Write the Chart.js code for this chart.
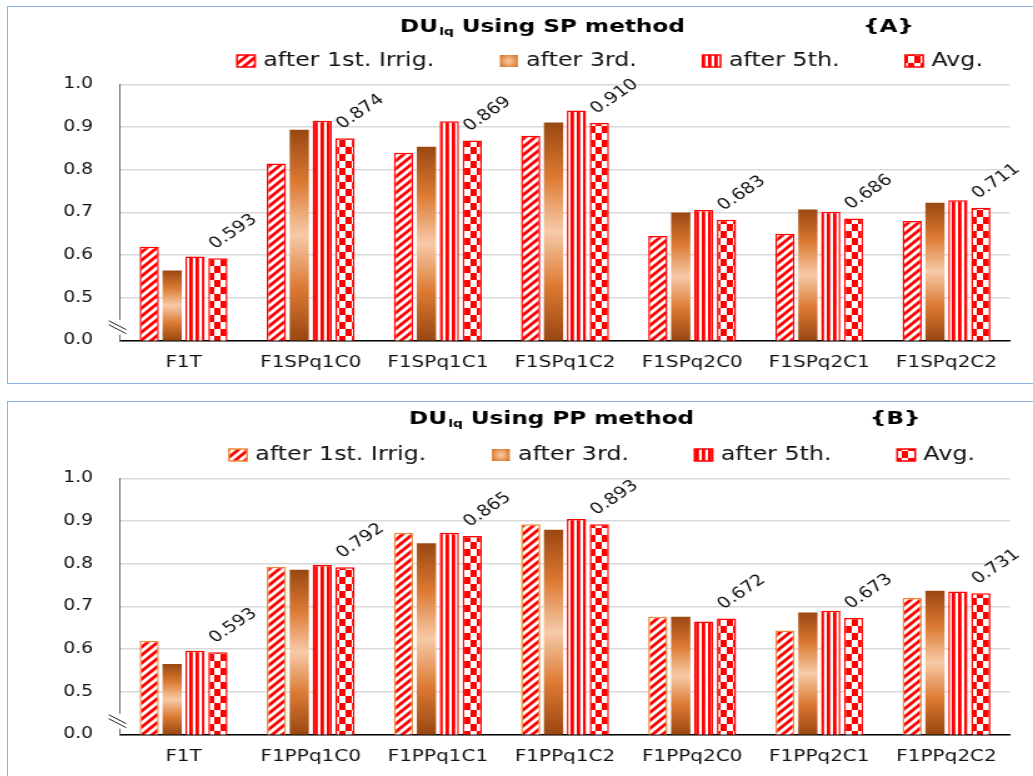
<!DOCTYPE html>
<html>
<head>
<meta charset="utf-8">
<script src="https://cdn.jsdelivr.net/npm/chart.js@4.4.1/dist/chart.umd.min.js"></script>
<style>
  body { margin: 0; background: #fff; width: 1033px; height: 776px; overflow: hidden; position: relative; }
  .panel { position: absolute; left: 7px; width: 1040px; border: 1px solid #8db3e2; overflow: hidden; background: #fff; }
  #panelA { top: 6px; height: 376px; }
  #panelB { top: 401px; height: 380px; }
  /* the source picture is stretched sideways, so the canvas is too */
  .stretch { width: 824px; height: 376px; transform: scaleX(1.25); transform-origin: 0 0; }
</style>
</head>
<body>
<div class="panel" id="panelA"><div class="stretch"><canvas id="chartA"></canvas></div></div>
<div class="panel" id="panelB"><div class="stretch"><canvas id="chartB"></canvas></div></div>
<script>
const seriesNames = ["after 1st. Irrig.", "after 3rd.", "after 5th.", "Avg."];

const spLabels = ["F1T", "F1SPq1C0", "F1SPq1C1", "F1SPq1C2", "F1SPq2C0", "F1SPq2C1", "F1SPq2C2"];
const spFirst = [0.620, 0.815, 0.840, 0.880, 0.645, 0.650, 0.680];
const spThird = [0.564, 0.894, 0.854, 0.911, 0.700, 0.707, 0.723];
const spFifth = [0.597, 0.915, 0.914, 0.939, 0.706, 0.702, 0.729];
const spAvg = [0.593, 0.874, 0.869, 0.910, 0.683, 0.686, 0.711];

const ppLabels = ["F1T", "F1PPq1C0", "F1PPq1C1", "F1PPq1C2", "F1PPq2C0", "F1PPq2C1", "F1PPq2C2"];
const ppFirst = [0.620, 0.793, 0.873, 0.893, 0.676, 0.644, 0.720];
const ppThird = [0.565, 0.786, 0.848, 0.880, 0.676, 0.686, 0.737];
const ppFifth = [0.596, 0.797, 0.873, 0.905, 0.665, 0.690, 0.735];
const ppAvg = [0.593, 0.792, 0.865, 0.893, 0.672, 0.673, 0.731];

// axis is broken: the bottom (0.4) is labelled 0.0
const yMin = 0.4;
const yMax = 1.0;

const RED = "#ff0000";
const FONT = '"DejaVu Sans", Verdana, sans-serif';
Chart.defaults.font.family = FONT;
Chart.defaults.color = "#111";

function makePattern(w, h, draw) {
    const c = document.createElement("canvas");
    c.width = w;
    c.height = h;
    const g = c.getContext("2d");
    g.fillStyle = "#fff";
    g.fillRect(0, 0, w, h);
    g.fillStyle = RED;
    g.strokeStyle = RED;
    draw(g, w, h);
    return g.createPattern(c, "repeat");
}

const diagPattern = makePattern(8, 8, g => {
    g.lineWidth = 2.8;
    g.beginPath();
    g.moveTo(-2, 2); g.lineTo(2, -2);
    g.moveTo(0, 8); g.lineTo(8, 0);
    g.moveTo(6, 10); g.lineTo(10, 6);
    g.stroke();
});
const vertPattern = makePattern(5, 2, g => g.fillRect(0, 0, 2.8, 2));
const checkPattern = makePattern(10, 14, g => {
    g.fillRect(0, 0, 5, 7);
    g.fillRect(5, 7, 5, 7);
});

function brownGradient(c) {
    const chart = c.chart;
    if (!chart.chartArea || c.type !== "data") return "#e0803a";
    const ys = chart.scales.y;
    const top = ys.getPixelForValue(c.raw);
    const bottom = ys.getPixelForValue(yMin);
    const g = chart.ctx.createLinearGradient(0, top, 0, bottom);
    g.addColorStop(0, "#9a4712");
    g.addColorStop(0.25, "#dc7a33");
    g.addColorStop(0.5, "#f7caa8");
    g.addColorStop(0.75, "#dc7a33");
    g.addColorStop(1, "#9a4712");
    return g;
}

function buildChart(canvasId, cfg) {
    const avg = cfg.avg;

    const headerPlugin = {
        id: "header",
        afterDraw(chart) {
            const ctx = chart.ctx;
            ctx.save();
            ctx.fillStyle = "#000";
            ctx.textAlign = "left";
            ctx.textBaseline = "alphabetic";
            let x = cfg.titleX;
            const y = cfg.titleY;
            ctx.font = "bold 18.5px " + FONT;
            ctx.fillText("DU", x, y);
            x += ctx.measureText("DU").width + 1;
            ctx.font = "bold 11px " + FONT;
            ctx.fillText("lq", x, y + 3);
            x += ctx.measureText("lq").width;
            ctx.font = "bold 18.5px " + FONT;
            ctx.fillText(" Using " + cfg.method + " method", x, y);
            ctx.fillText(cfg.tag, cfg.tagX, y);

            // legend
            const fills = [diagPattern, null, vertPattern, checkPattern];
            let lx = cfg.legendX;
            const ly = cfg.legendY;
            ctx.font = "19px " + FONT;
            ctx.textBaseline = "middle";
            seriesNames.forEach((name, i) => {
                const bw = 14.4, bh = 12;
                if (i === 1) {
                    const rg = ctx.createRadialGradient(lx + bw / 2, ly, 1, lx + bw / 2, ly, 9);
                    rg.addColorStop(0, "#f8c49a");
                    rg.addColorStop(1, "#d66d1e");
                    ctx.fillStyle = rg;
                    ctx.fillRect(lx, ly - bh / 2, bw, bh);
                } else {
                    ctx.fillStyle = fills[i];
                    ctx.fillRect(lx, ly - bh / 2, bw, bh);
                    ctx.lineWidth = 1.5;
                    ctx.strokeStyle = i === 0 ? cfg.firstBorder : RED;
                    ctx.strokeRect(lx, ly - bh / 2, bw, bh);
                }
                ctx.fillStyle = "#111";
                ctx.fillText(name, lx + 21, ly);
                lx += 21 + ctx.measureText(name).width + 52.5;
            });

            // break marks on the y axis
            const ys = chart.scales.y;
            const left = chart.chartArea.left;
            const yb = ys.getPixelForValue(0.43);
            ctx.fillStyle = "#fff";
            ctx.fillRect(left - 2, yb - 8, 4, 15);
            ctx.strokeStyle = "#222";
            ctx.lineWidth = 1;
            ctx.beginPath();
            ctx.moveTo(left - 9, yb - 7); ctx.lineTo(left + 5, yb + 2);
            ctx.moveTo(left - 9, yb - 3); ctx.lineTo(left + 5, yb + 6);
            ctx.stroke();
            ctx.restore();
        },
        afterDatasetsDraw(chart) {
            const ctx = chart.ctx;
            const meta = chart.getDatasetMeta(3);
            ctx.save();
            ctx.fillStyle = "#111";
            ctx.font = "15.5px " + FONT;
            ctx.textAlign = "left";
            ctx.textBaseline = "alphabetic";
            meta.data.forEach((el, i) => {
                ctx.save();
                ctx.translate(el.x - el.width / 2 + 5.5, el.y - 9);
                ctx.rotate(-40 * Math.PI / 180);
                ctx.fillText(avg[i].toFixed(3), 0, 0);
                ctx.restore();
            });
            ctx.restore();
        }
    };

    return new Chart(document.getElementById(canvasId), {
        type: "bar",
        data: {
            labels: cfg.labels,
            datasets: [
                { label: seriesNames[0], data: cfg.first, backgroundColor: diagPattern,
                  borderColor: cfg.firstBorder, borderWidth: 1.5 },
                { label: seriesNames[1], data: cfg.third, backgroundColor: brownGradient,
                  borderWidth: 0 },
                { label: seriesNames[2], data: cfg.fifth, backgroundColor: vertPattern,
                  borderColor: RED, borderWidth: 1.5 },
                { label: seriesNames[3], data: avg, backgroundColor: checkPattern,
                  borderColor: RED, borderWidth: 1.5 }
            ]
        },
        options: {
            responsive: true,
            maintainAspectRatio: false,
            animation: false,
            events: [],
            categoryPercentage: 0.72,
            barPercentage: 0.84,
            layout: { padding: { top: cfg.plotTop, right: 22.4, left: 0, bottom: 0 } },
            plugins: {
                legend: { display: false },
                title: { display: false },
                tooltip: { enabled: false }
            },
            scales: {
                x: {
                    grid: { display: false, drawTicks: false },
                    border: { color: "#000", width: 1.5 },
                    ticks: { padding: 13, font: { size: 16 }, color: "#111" },
                    afterFit(s) { s.height = 376 - cfg.plotBottom; }
                },
                y: {
                    min: yMin,
                    max: yMax,
                    grid: { color: "#d9d9d9", lineWidth: 1.5, drawTicks: false },
                    border: { color: "#666", width: 1 },
                    ticks: {
                        stepSize: 0.1,
                        padding: 21.6,
                        font: { size: 15 },
                        color: "#111",
                        callback: v => Math.abs(v - yMin) < 1e-6 ? "0.0" : v.toFixed(1)
                    },
                    afterFit(s) { s.width = 89.6; }
                }
            }
        },
        plugins: [headerPlugin]
    });
}

buildChart("chartA", {
    labels: spLabels, first: spFirst, third: spThird, fifth: spFifth, avg: spAvg,
    method: "SP", tag: "{A}", firstBorder: RED,
    titleX: 313.6, tagX: 684, titleY: 25, legendX: 183.2, legendY: 54,
    plotTop: 77.5, plotBottom: 333.5
});

buildChart("chartB", {
    labels: ppLabels, first: ppFirst, third: ppThird, fifth: ppFifth, avg: ppAvg,
    method: "PP", tag: "{B}", firstBorder: "#ef8a3c",
    titleX: 320.8, tagX: 689.6, titleY: 21.5, legendX: 176.8, legendY: 53,
    plotTop: 76.5, plotBottom: 332.5
});
</script>
</body>
</html>
